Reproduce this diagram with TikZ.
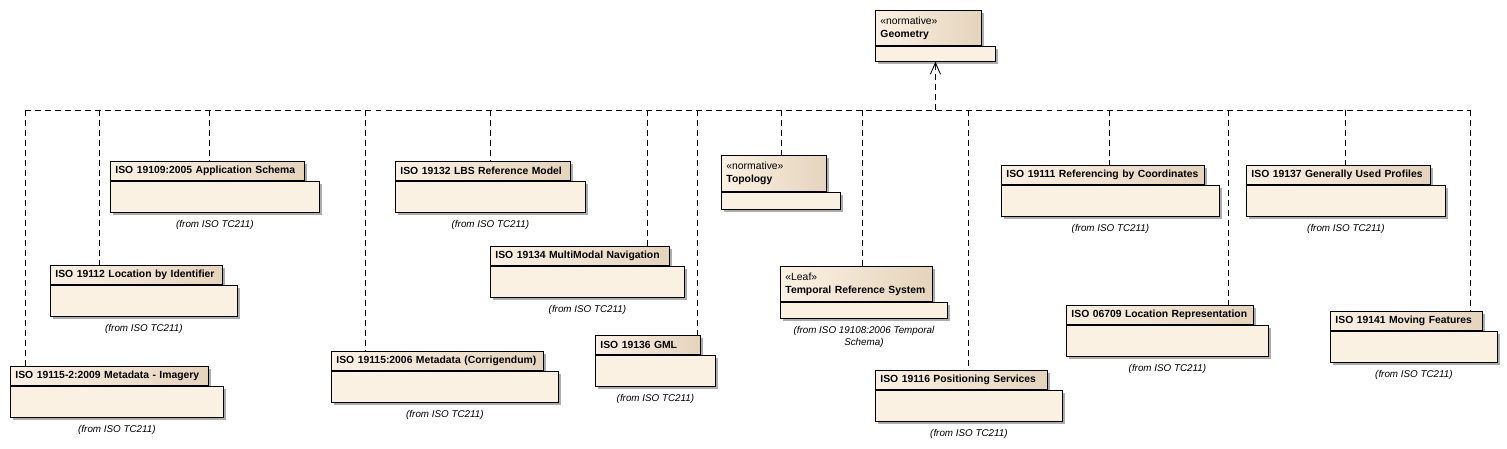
\documentclass[tikz,border=0pt]{standalone}
\usepackage{fontspec}
\setmainfont{Liberation Sans}
\usepackage{xcolor}
\usepackage{tikz}
\usetikzlibrary{arrows.meta, positioning, calc, shadows}

\definecolor{pkgbody}{RGB}{251,241,227}
\definecolor{pkgdark}{RGB}{229,212,188}

% UML package: id, left, top, tab width, title
\newcommand{\umlpkg}[5]{%
  \pgfmathsetmacro{\tabtw}{(#4-10)*0.02}%
  \pgfmathsetmacro{\tabw}{#4*0.02}%
  \pgfmathsetmacro{\bodyw}{(#4+15)*0.02}%
  \node[pkgtab, text width=\tabtw cm, minimum width=\tabw cm, minimum height=0.38cm] (t#1) at (#2,#3) {\mbox{#5}};
  \node[pkgbody, minimum width=\bodyw cm, minimum height=0.62cm] (b#1) at (t#1.south west) {};
  \node[pkgfrom, below=0.14cm of b#1] (f#1) {(from ISO TC211)};
}

\begin{document}
\begin{tikzpicture}[x=0.02cm, y=-0.02cm,
    pkgshadow/.style={drop shadow={shadow xshift=0.06cm, shadow yshift=-0.06cm, fill=black!32, opacity=1}},
    pkgtab/.style={draw, line width=0.5pt, left color=pkgbody, right color=pkgdark, anchor=north west,
      align=left, inner xsep=0.1cm, inner ysep=0pt, font=\bfseries\fontsize{5.9}{7.4}\selectfont, pkgshadow},
    pkgbody/.style={draw, line width=0.5pt, fill=pkgbody, anchor=north west, inner sep=0pt, pkgshadow},
    pkgfrom/.style={inner sep=0pt, align=center, font=\itshape\fontsize{5.6}{6.9}\selectfont},
    dep/.style={line width=0.5pt, dash pattern=on 3.4pt off 2.3pt}]
  \useasboundingbox (0,0) rectangle (1507,449);

  % Geometry
  \node[pkgtab, text width=1.92cm, minimum width=2.12cm, minimum height=0.7cm, font=\fontsize{5.9}{7.4}\selectfont] (tgeo) at (875,10) {«normative»\\\textbf{Geometry}};
  \node[pkgbody, minimum width=2.4cm, minimum height=0.3cm] (bgeo) at (tgeo.south west) {};

  % Topology
  \node[pkgtab, text width=1.9cm, minimum width=2.1cm, minimum height=0.72cm, font=\fontsize{5.9}{7.4}\selectfont] (ttopo) at (721,155) {«normative»\\\textbf{Topology}};
  \node[pkgbody, minimum width=2.38cm, minimum height=0.34cm] (btopo) at (ttopo.south west) {};

  % Temporal Reference System
  \node[pkgtab, text width=2.84cm, minimum width=3.04cm, minimum height=0.7cm, font=\fontsize{5.9}{7.4}\selectfont] (ttemp) at (780,266) {«Leaf»\\\mbox{\textbf{Temporal Reference System}}};
  \node[pkgbody, minimum width=3.34cm, minimum height=0.32cm] (btemp) at (ttemp.south west) {};
  \node[pkgfrom, below=0.14cm of btemp] (ftemp) {(from ISO 19108:2006 Temporal\\Schema)};

  % ISO TC211 packages
  \umlpkg{19109}{110}{161}{194}{ISO 19109:2005 Application Schema}
  \umlpkg{19112}{50}{265}{172}{ISO 19112 Location by Identifier}
  \umlpkg{191152}{10}{366}{198}{ISO 19115-2:2009 Metadata - Imagery}
  \umlpkg{19132}{395}{161}{175}{ISO 19132 LBS Reference Model}
  \umlpkg{19134}{490}{246}{179}{ISO 19134 MultiModal Navigation}
  \umlpkg{19115}{331}{351}{212}{ISO 19115:2006 Metadata (Corrigendum)}
  \umlpkg{19136}{595}{335}{105}{ISO 19136 GML}
  \umlpkg{19116}{875}{370}{172}{ISO 19116 Positioning Services}
  \umlpkg{19111}{1001}{165}{203}{ISO 19111 Referencing by Coordinates}
  \umlpkg{19137}{1246}{165}{184}{ISO 19137 Generally Used Profiles}
  \umlpkg{06709}{1066}{305}{187}{ISO 06709 Location Representation}
  \umlpkg{19141}{1330}{311}{152}{ISO 19141 Moving Features}

  % Dependencies
  \coordinate (busL) at (25,110);
  \coordinate (busR) at (1470,110);
  \draw[dep] (busL) -- (busR);
  \draw[dep, -{Straight Barb[length=6.5pt, width=5.8pt]}] (bgeo.south |- busL) -- (bgeo.south);
  \foreach \x/\id in {25/191152, 99/19112, 209/19109, 365/19115, 490/19132, 647/19134, 697/19136,
      781/topo, 862/temp, 968/19116, 1109/19111, 1228/06709, 1345/19137, 1470/19141}
    \draw[dep] (\x,0 |- busL) -- (\x,0 |- t\id.north);
\end{tikzpicture}
\end{document}
